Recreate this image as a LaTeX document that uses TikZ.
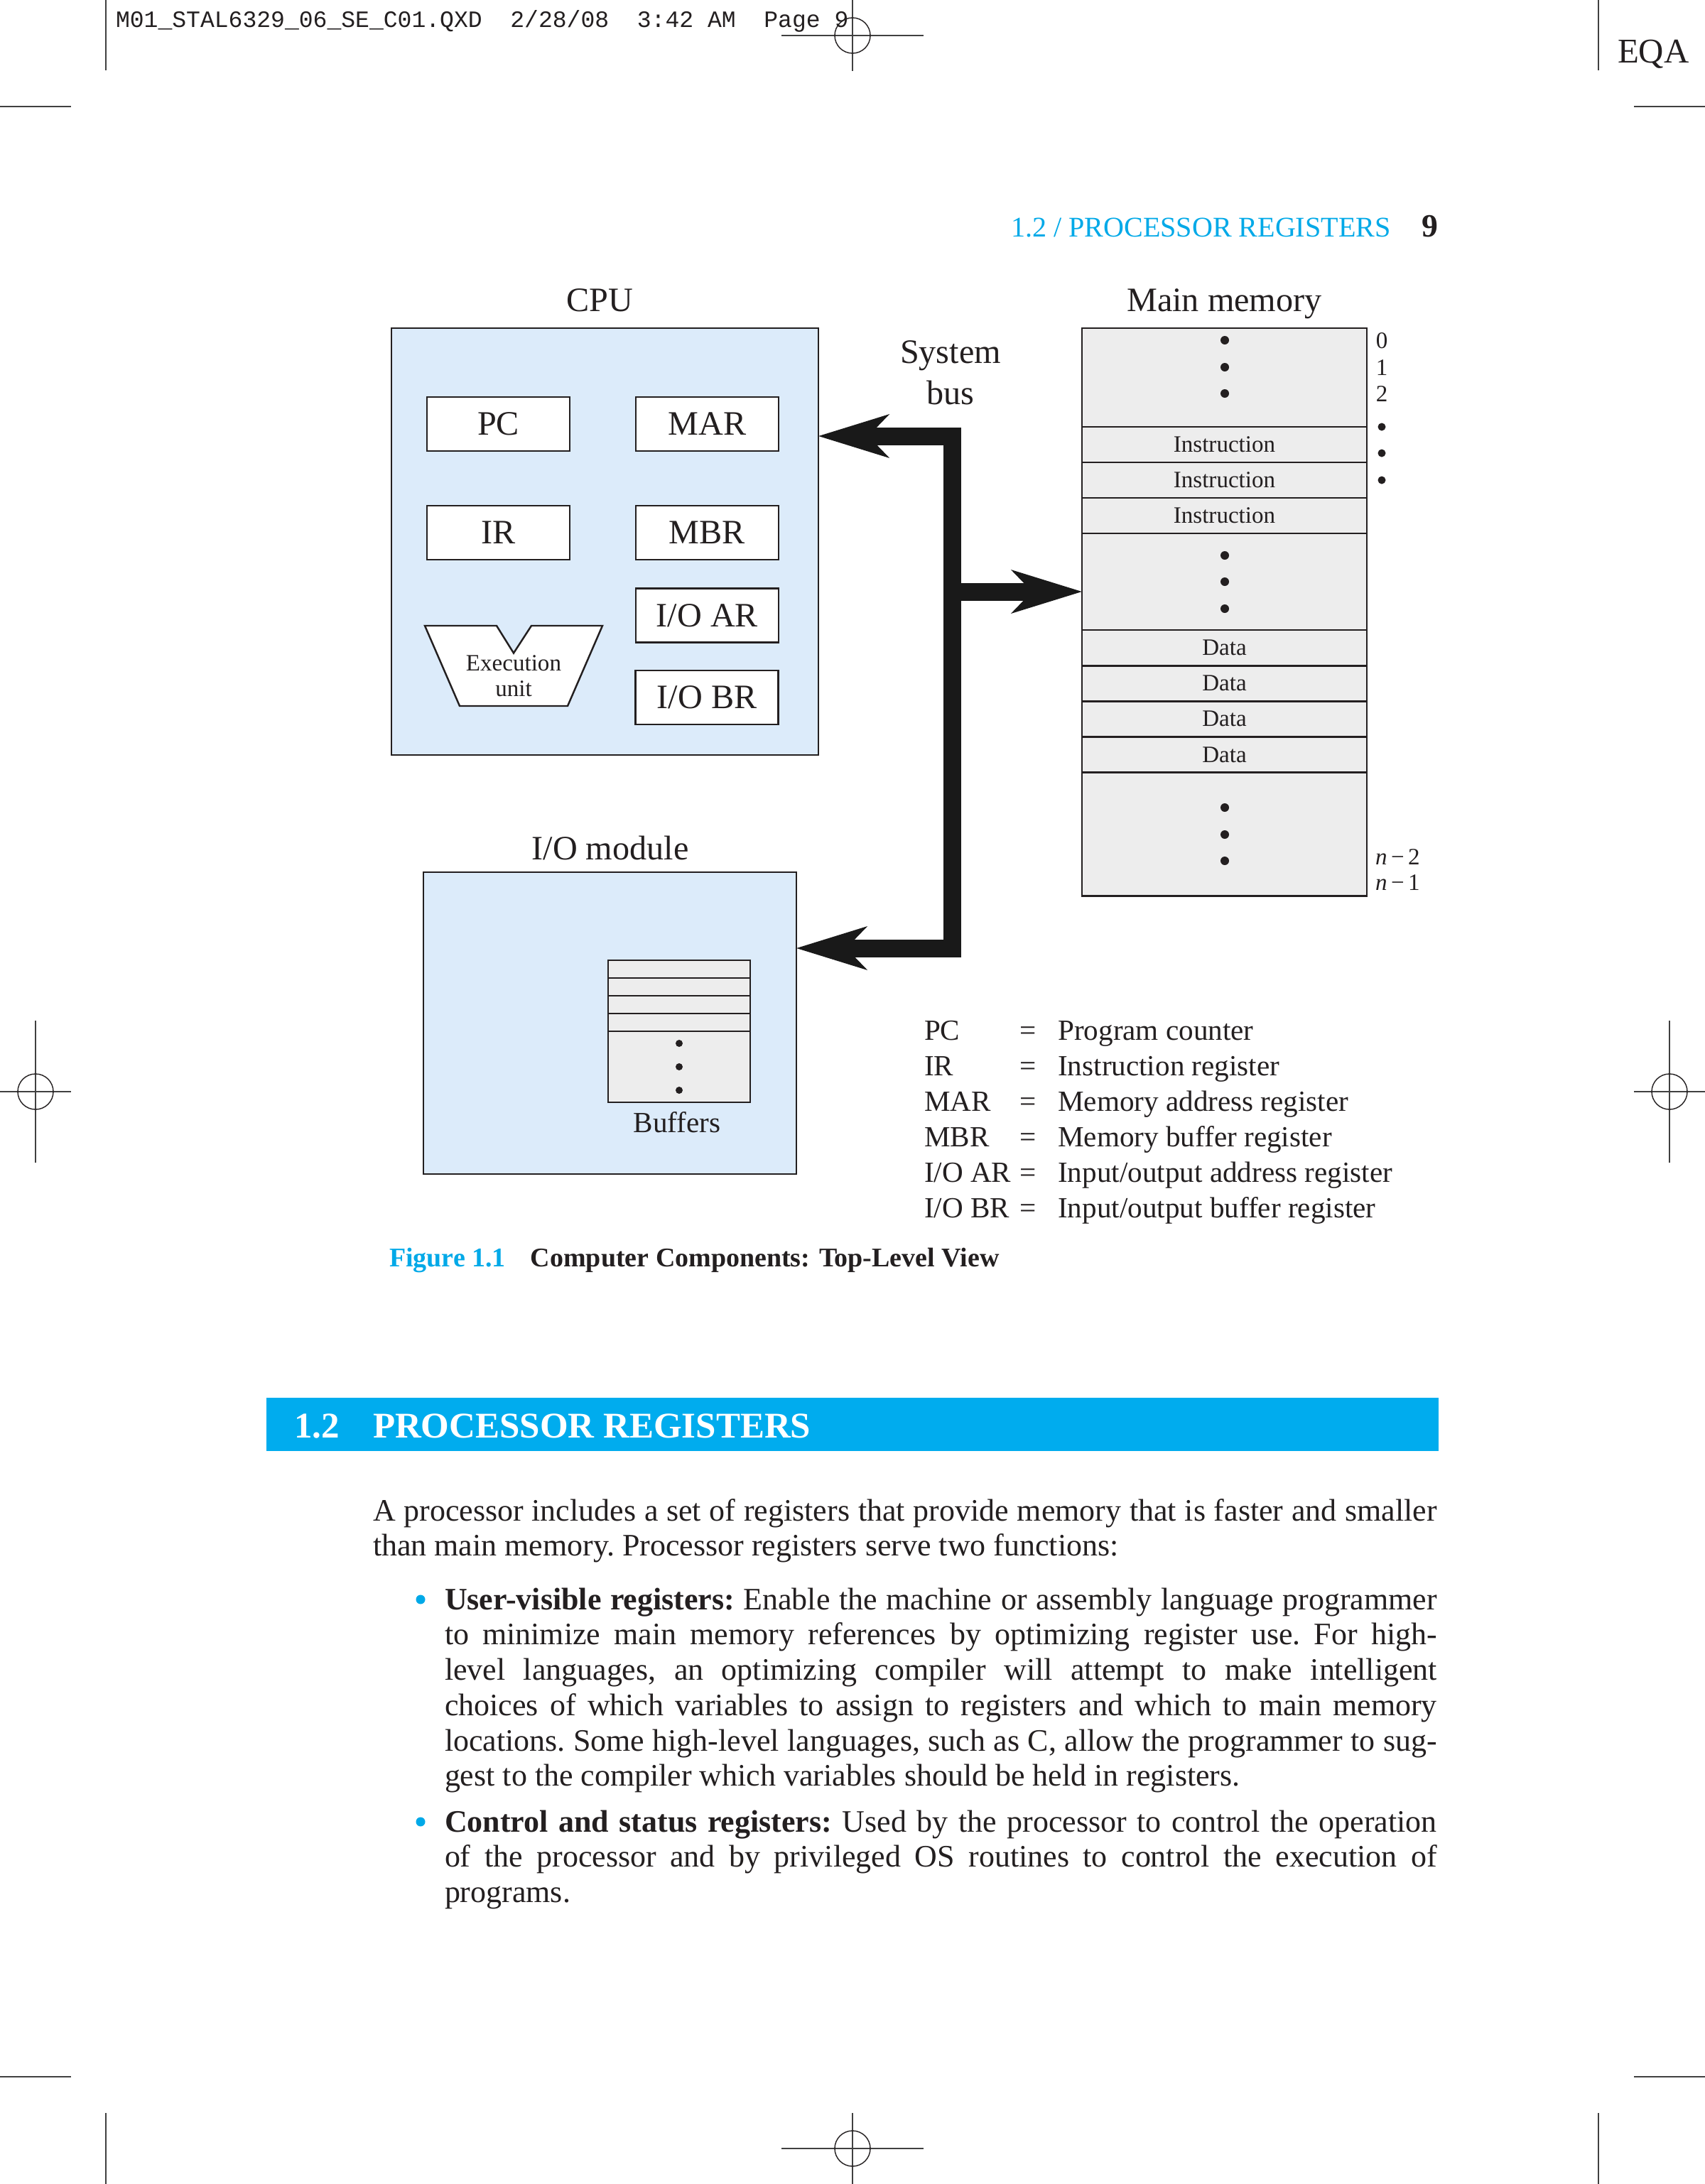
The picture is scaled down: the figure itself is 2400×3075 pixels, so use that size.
\documentclass[tikz,border=0pt]{standalone}
\usepackage{fontspec}
\setmainfont{Liberation Serif}
\setmonofont{Liberation Mono}
\usepackage{xcolor}
\usepackage{tikz}
\usetikzlibrary{arrows.meta}
\definecolor{cpublue}{RGB}{220,235,250}
\definecolor{memgray}{RGB}{237,237,237}
\definecolor{pcyan}{RGB}{0,169,232}
\definecolor{bandcyan}{RGB}{0,172,238}
\definecolor{ink}{RGB}{35,31,32}
\tikzset{bustip/.tip={Stealth[length=1cm, width=0.62cm, inset=0.3cm, line width=0pt]}}

\begin{document}
\begin{tikzpicture}[x=0.01cm, y=-0.01cm, color=ink, line width=0.7pt,
    every node/.style={inner sep=0pt, outer sep=0pt},
    lab/.style={font=\fontsize{13.7}{16.4}\selectfont},
    memtext/.style={font=\fontsize{9.4}{10.24}\selectfont},
    legfont/.style={font=\fontsize{11.7}{14.23}\selectfont},
    reg/.style={draw, fill=white, minimum width=2.01cm, minimum height=0.76cm, lab},
    memrow/.style={draw, fill=memgray, minimum width=4.01cm, minimum height=0.5cm, memtext, anchor=north},
    bufrow/.style={draw, fill=memgray, minimum width=2.0cm, minimum height=0.25cm, anchor=north},
    bus/.style={line width=0.25cm, line join=miter, draw=black!90},
    crop/.style={line width=0.5pt, draw=black!75},
    body/.style={font=\fontsize{12.5}{14.15}\selectfont\frenchspacing, align=justify, anchor=base west}]
  \fill[white] (0,0) rectangle (2400,3075);
  \useasboundingbox (0,0) rectangle (2400,3075);

  % crop and registration marks
  \draw[crop] (149,0) -- (149,99);
  \draw[crop] (0,150) -- (100,150);
  \draw[crop] (2250,0) -- (2250,99);
  \draw[crop] (2300,150) -- (2400,150);
  \draw[crop] (149,2975) -- (149,3075);
  \draw[crop] (0,2924) -- (100,2924);
  \draw[crop] (2250,2975) -- (2250,3075);
  \draw[crop] (2300,2924) -- (2400,2924);
  \foreach \cx/\cy/\hx/\vy in {1200/50/100/50, 1200/3025/100/50, 50/1537/50/100, 2350/1537/50/100} {
    \draw[crop] (\cx-\hx,\cy) -- (\cx+\hx,\cy) (\cx,\cy-\vy) -- (\cx,\cy+\vy);
    \draw[line width=0.4pt] (\cx,\cy) circle[radius=0.25cm];
  }

  \node[anchor=base west, font=\ttfamily\fontsize{9.4}{11}\selectfont] (slug) at (163,38)
    {M01\_STAL6329\_06\_SE\_C01.QXD\ \ 2/28/08\ \ 3:42 AM\ \ Page 9};
  \node[anchor=base west, font=\fontsize{13.9}{16}\selectfont] (eqa) at (2277,88) {EQA};
  \node[anchor=base west, font=\fontsize{11.4}{13}\selectfont, text=pcyan] (runhead) at (1423,333)
    {1.2 / PROCESSOR REGISTERS};
  \node[anchor=base west, font=\fontsize{13}{15}\selectfont\bfseries] (folio) at (2001,333) {9};

  % CPU
  \node[lab, anchor=base] (cpulab) at (844,438) {CPU};
  \node[draw, fill=cpublue, minimum width=6.01cm, minimum height=6.01cm] (cpu) at (851.5,762.5) {};
  \node[reg] (pc) at (701.5,597) {PC};
  \node[reg] (mar) at (995.5,597) {MAR};
  \node[reg] (ir) at (701.5,750) {IR};
  \node[reg] (mbr) at (995.5,750) {MBR};
  \node[reg] (ioar) at (995.5,866.5) {I/O AR};
  \node[reg] (iobr) at (995,982) {I/O BR};
  \filldraw[fill=white] (598,881) -- (699,881) -- (723,919.5) -- (748,881) -- (848,881)
    -- (799,994) -- (647,994) -- cycle;
  \node[memtext, align=center] (exu) at (723,952) {Execution\\unit};

  % main memory
  \node[lab, anchor=base] (memlab) at (1723.5,438) {Main memory};
  \node[memrow, minimum height=1.39cm] (mtop) at (1723.5,462) {};
  \node[memrow] (ins1) at (mtop.south) {Instruction};
  \node[memrow] (ins2) at (ins1.south) {Instruction};
  \node[memrow] (ins3) at (ins2.south) {Instruction};
  \node[memrow, minimum height=1.36cm] (mmid) at (ins3.south) {};
  \node[memrow] (dat1) at (mmid.south) {Data};
  \node[memrow] (dat2) at (dat1.south) {Data};
  \node[memrow] (dat3) at (dat2.south) {Data};
  \node[memrow] (dat4) at (dat3.south) {Data};
  \node[memrow, minimum height=1.74cm] (mbot) at (dat4.south) {};
  \foreach \y in {479,517,554,782,819,857,1137,1175,1212}
    \fill (1724,\y) circle[radius=0.06cm];
  \node[memtext] (a0) at (1945,480) {0};
  \node[memtext] (a1) at (1945,518) {1};
  \node[memtext] (a2) at (1945,555) {2};
  \foreach \y in {601,638,676}
    \fill (1945,\y) circle[radius=0.055cm];
  \node[memtext, anchor=west] (an2) at (1936,1207) {\textit{n}\,−\,2};
  \node[memtext, anchor=west] (an1) at (1936,1243) {\textit{n}\,−\,1};

  % I/O module
  \node[lab, anchor=base] (iolab) at (859,1210) {I/O module};
  \node[draw, fill=cpublue, minimum width=5.25cm, minimum height=4.25cm] (iomod) at (858.5,1440.5) {};
  \node[bufrow] (buf1) at (956,1352) {};
  \node[bufrow] (buf2) at (buf1.south) {};
  \node[bufrow] (buf3) at (buf2.south) {};
  \node[bufrow] (buf4) at (buf3.south) {};
  \node[bufrow, minimum height=1.0cm] (bufdots) at (buf4.south) {};
  \foreach \y in {1469,1502,1535}
    \fill (956,\y) circle[radius=0.05cm];
  \node[legfont, anchor=base] (buflab) at (953,1594) {Buffers};

  % system bus
  \node[lab, align=center] (buslab) at (1338,525) {System\\bus};
  \coordinate (bt) at (1340,614);
  \coordinate (bm) at (1340,833);
  \coordinate (bb) at (1340,1335);
  \draw[bus, bustip-bustip] (cpu.east |- bt) -- (bt) -- (bb) -- (iomod.east |- bb);
  \draw[bus, -bustip] (bm) -- (mmid.west |- bm);

  \node[legfont, anchor=north west] (legend) at (1301,1429) {%
    \begin{tabular}{@{}p{1.34cm}@{}l@{\hspace{0.31cm}}l@{}}
      PC & = & Program counter\\
      IR & = & Instruction register\\
      MAR & = & Memory address register\\
      MBR & = & Memory buffer register\\
      I/O AR & = & Input/output address register\\
      I/O BR & = & Input/output buffer register
    \end{tabular}};

  \node[anchor=base west, font=\fontsize{10.8}{13}\selectfont\bfseries] (caption) at (548,1783)
    {\textcolor{pcyan}{Figure 1.1}\hspace{0.35cm}Computer Components: Top-Level View};

  % section
  \node[fill=bandcyan, minimum width=16.49cm, minimum height=0.75cm] (band) at (1199.5,2005.5) {};
  \node[anchor=base west, font=\fontsize{14.5}{17}\selectfont\bfseries, text=white] (secnum) at (414,2024) {1.2};
  \node[anchor=base west, font=\fontsize{14.5}{17}\selectfont\bfseries, text=white] (sectitle) at (525,2024)
    {PROCESSOR REGISTERS};

  \node[body, text width=14.97cm] (para) at (525,2141)
    {A processor includes a set of registers that provide memory that is faster and smaller\linebreak
     than main memory. Processor registers serve two functions:};
  \node[circle, fill=pcyan, minimum size=0.13cm] (dot1) at (592,2252) {};
  \node[body, text width=13.96cm] (item1) at (626,2266)
    {\textbf{User-visible registers:} Enable the machine or assembly language programmer\linebreak
     to minimize main memory references by optimizing register use. For high-\linebreak
     level languages, an optimizing compiler will attempt to make intelligent\linebreak
     choices of which variables to assign to registers and which to main memory\linebreak
     locations. Some high-level languages, such as C, allow the programmer to sug-\linebreak
     gest to the compiler which variables should be held in registers.};
  \node[circle, fill=pcyan, minimum size=0.13cm] (dot2) at (592,2565) {};
  \node[body, text width=13.96cm] (item2) at (626,2579)
    {\textbf{Control and status registers:} Used by the processor to control the operation\linebreak
     of the processor and by privileged OS routines to control the execution of\linebreak
     programs.};
\end{tikzpicture}
\end{document}
